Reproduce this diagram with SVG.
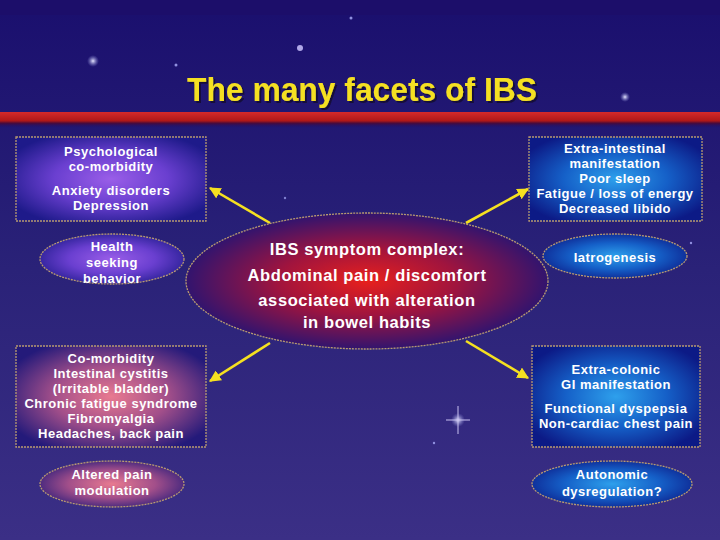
<svg xmlns="http://www.w3.org/2000/svg" width="720" height="540" viewBox="0 0 720 540">
<defs>
<linearGradient id="bg" x1="0" y1="0" x2="0" y2="1">
<stop offset="0" stop-color="#1a0f6e"/>
<stop offset="0.5" stop-color="#2a2278"/>
<stop offset="1" stop-color="#3b2f86"/>
</linearGradient>
<linearGradient id="bar" x1="0" y1="0" x2="0" y2="1">
<stop offset="0" stop-color="#d62a2a"/>
<stop offset="0.55" stop-color="#b01818"/>
<stop offset="0.7" stop-color="#4a0a3a"/>
<stop offset="1" stop-color="#1a0f6e" stop-opacity="0"/>
</linearGradient>
<radialGradient id="gPurple" cx="0.5" cy="0.5" r="0.6">
<stop offset="0" stop-color="#9a5ee8"/>
<stop offset="0.5" stop-color="#6a3fd0"/>
<stop offset="1" stop-color="#1e1a8a"/>
</radialGradient>
<radialGradient id="gBlue" cx="0.5" cy="0.5" r="0.6">
<stop offset="0" stop-color="#2ea0ec"/>
<stop offset="0.5" stop-color="#1560c8"/>
<stop offset="1" stop-color="#0c1a86"/>
</radialGradient>
<radialGradient id="gPink" cx="0.5" cy="0.5" r="0.6">
<stop offset="0" stop-color="#e87a90"/>
<stop offset="0.5" stop-color="#a34f8a"/>
<stop offset="1" stop-color="#241a7a"/>
</radialGradient>
<radialGradient id="gRed" cx="0.5" cy="0.5" r="0.55">
<stop offset="0" stop-color="#e8201c"/>
<stop offset="0.45" stop-color="#a0143e"/>
<stop offset="1" stop-color="#1c1478"/>
</radialGradient>
<radialGradient id="star" cx="0.5" cy="0.5" r="0.5">
<stop offset="0" stop-color="#e8e8ff"/>
<stop offset="1" stop-color="#8080d0" stop-opacity="0"/>
</radialGradient>
<filter id="shadow" x="-5%" y="-20%" width="110%" height="140%">
<feDropShadow dx="2" dy="2" stdDeviation="0.5" flood-color="#120a3a" flood-opacity="1"/>
</filter>
<marker id="ah" viewBox="0 0 10 10" refX="9" refY="5" markerWidth="4.5" markerHeight="4.5" orient="auto">
<path d="M0,0 L10,5 L0,10 z" fill="#f5e020"/>
</marker>
<style>
.node{stroke:#b89a70;stroke-width:1.3;stroke-dasharray:2 1}
text{font-family:"Liberation Sans",Arial,sans-serif;font-weight:bold;fill:#ffffff;text-anchor:middle}
.t{font-size:13px;letter-spacing:0.5px}
.c{font-size:16.5px;letter-spacing:0.6px}
.conn{stroke:#f5e020;stroke-width:2.6;fill:none;marker-end:url(#ah)}
</style>
</defs>
<rect width="720" height="540" fill="url(#bg)"/>
<rect width="720" height="15" fill="#1c0e6a"/>
<g id="stars">
<circle cx="93" cy="61" r="6" fill="url(#star)"/>
<circle cx="300" cy="48" r="3" fill="#b0a8e8"/>
<circle cx="176" cy="65" r="1.5" fill="#9090e0"/>
<circle cx="351" cy="18" r="1.5" fill="#9090e0"/>
<circle cx="625" cy="97" r="5" fill="url(#star)"/>
<circle cx="458" cy="420" r="7" fill="url(#star)"/>
<path d="M458,406 L458,434 M446,420 L470,420" stroke="#c8c0f0" stroke-width="1"/>
<circle cx="434" cy="443" r="1.2" fill="#9090e0"/>
<circle cx="691" cy="243" r="1.2" fill="#9090e0"/>
<circle cx="285" cy="198" r="1.2" fill="#8080d0"/>
</g>
<g id="title">
<text x="362" y="101" textLength="350" lengthAdjust="spacingAndGlyphs" filter="url(#shadow)" style="font-size:33px;fill:#f5e020;letter-spacing:0">The many facets of IBS</text>
<rect x="0" y="112" width="720" height="16" fill="url(#bar)"/>
</g>
<g id="connectors">
<line class="conn" x1="270" y1="223" x2="210" y2="188"/>
<line class="conn" x1="466" y1="223" x2="528" y2="189"/>
<line class="conn" x1="270" y1="343" x2="210" y2="381"/>
<line class="conn" x1="466" y1="341" x2="528" y2="378"/>
</g>
<g id="center">
<ellipse class="node" cx="367" cy="281" rx="181" ry="68" fill="url(#gRed)"/>
<text class="c" x="367" y="255">IBS symptom complex:</text>
<text class="c" x="367" y="281">Abdominal pain / discomfort</text>
<text class="c" x="367" y="306">associated with alteration</text>
<text class="c" x="367" y="328">in bowel habits</text>
</g>
<g id="psych">
<rect class="node" x="16" y="137" width="190" height="84" fill="url(#gPurple)"/>
<text class="t" x="111" y="156">Psychological</text>
<text class="t" x="111" y="171">co-morbidity</text>
<text class="t" x="111" y="195">Anxiety disorders</text>
<text class="t" x="111" y="210">Depression</text>
</g>
<g id="health">
<ellipse class="node" cx="112" cy="259" rx="72" ry="25" fill="url(#gPurple)"/>
<text class="t" x="112" y="251">Health</text>
<text class="t" x="112" y="267">seeking</text>
<text class="t" x="112" y="283">behavior</text>
</g>
<g id="extraint">
<rect class="node" x="529" y="137" width="173" height="84" fill="url(#gBlue)"/>
<text class="t" x="615" y="153">Extra-intestinal</text>
<text class="t" x="615" y="168">manifestation</text>
<text class="t" x="615" y="183">Poor sleep</text>
<text class="t" x="615" y="198">Fatigue / loss of energy</text>
<text class="t" x="615" y="213">Decreased libido</text>
</g>
<g id="iatro">
<ellipse class="node" cx="615" cy="256" rx="72" ry="22" fill="url(#gBlue)"/>
<text class="t" x="615" y="262">Iatrogenesis</text>
</g>
<g id="comorb">
<rect class="node" x="16" y="346" width="190" height="101" fill="url(#gPink)"/>
<text class="t" x="111" y="363">Co-morbidity</text>
<text class="t" x="111" y="378">Intestinal cystitis</text>
<text class="t" x="111" y="393">(Irritable bladder)</text>
<text class="t" x="111" y="408">Chronic fatigue syndrome</text>
<text class="t" x="111" y="423">Fibromyalgia</text>
<text class="t" x="111" y="438">Headaches, back pain</text>
</g>
<g id="altered">
<ellipse class="node" cx="112" cy="484" rx="72" ry="23" fill="url(#gPink)"/>
<text class="t" x="112" y="479">Altered pain</text>
<text class="t" x="112" y="495">modulation</text>
</g>
<g id="extracol">
<rect class="node" x="532" y="346" width="168" height="101" fill="url(#gBlue)"/>
<text class="t" x="616" y="374">Extra-colonic</text>
<text class="t" x="616" y="389">GI manifestation</text>
<text class="t" x="616" y="413">Functional dyspepsia</text>
<text class="t" x="616" y="428">Non-cardiac chest pain</text>
</g>
<g id="autonomic">
<ellipse class="node" cx="612" cy="484" rx="80" ry="23" fill="url(#gBlue)"/>
<text class="t" x="612" y="479">Autonomic</text>
<text class="t" x="612" y="496">dysregulation?</text>
</g>
</svg>
